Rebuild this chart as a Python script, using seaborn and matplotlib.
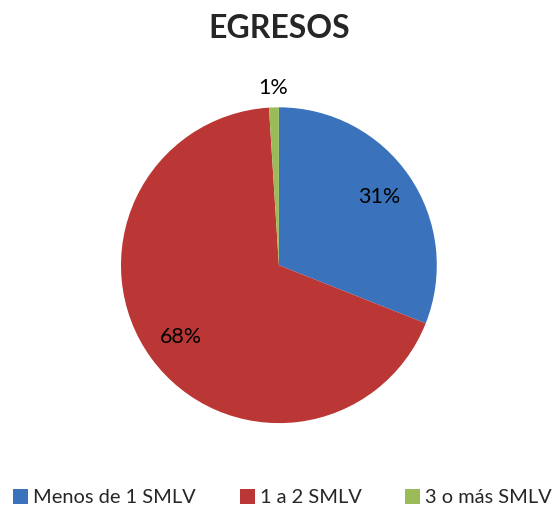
import matplotlib
matplotlib.use("Agg")
import matplotlib.pyplot as plt
import seaborn as sns
import numpy as np

categories = ["Menos de 1 SMLV", "1 a 2 SMLV", "3 o más SMLV"]
values = [31, 68, 1]
colors = ["#3A72BC", "#BB3735", "#9BBB59"]
title = "EGRESOS"

sns.set_theme(style="white")
plt.rcParams['font.family'] = ['Lato', 'DejaVu Sans']

fig = plt.figure(figsize=(5.55, 5.13), dpi=100)
ax = fig.add_axes([0.218, 0.175, 0.569, 0.616])

wedges, texts, autotexts = ax.pie(
    values, colors=colors, startangle=90, counterclock=False,
    autopct=lambda p: f"{p:.0f}%", pctdistance=0.77,
    wedgeprops=dict(linewidth=0), textprops=dict(fontsize=15.5, color="black"))
ax.set_xlim(-1, 1)
ax.set_ylim(-1, 1)
ax.set_aspect("equal")

# move the tiny slice label outside
w = wedges[2]
mid = np.deg2rad((w.theta1 + w.theta2) / 2)
autotexts[2].set_position((1.12 * np.cos(mid), 1.12 * np.sin(mid)))

fig.text(0.503, 0.945, title, ha="center", va="center", fontsize=23, fontweight="bold")

leg = fig.legend(wedges, categories, loc="center", bbox_to_anchor=(0.509, 0.03), ncol=3,
                 frameon=False, fontsize=14.4, handlelength=0.75, handleheight=0.75,
                 handletextpad=0.25, columnspacing=2.2, borderpad=0.2)

fig.savefig("out.png", dpi=100)
